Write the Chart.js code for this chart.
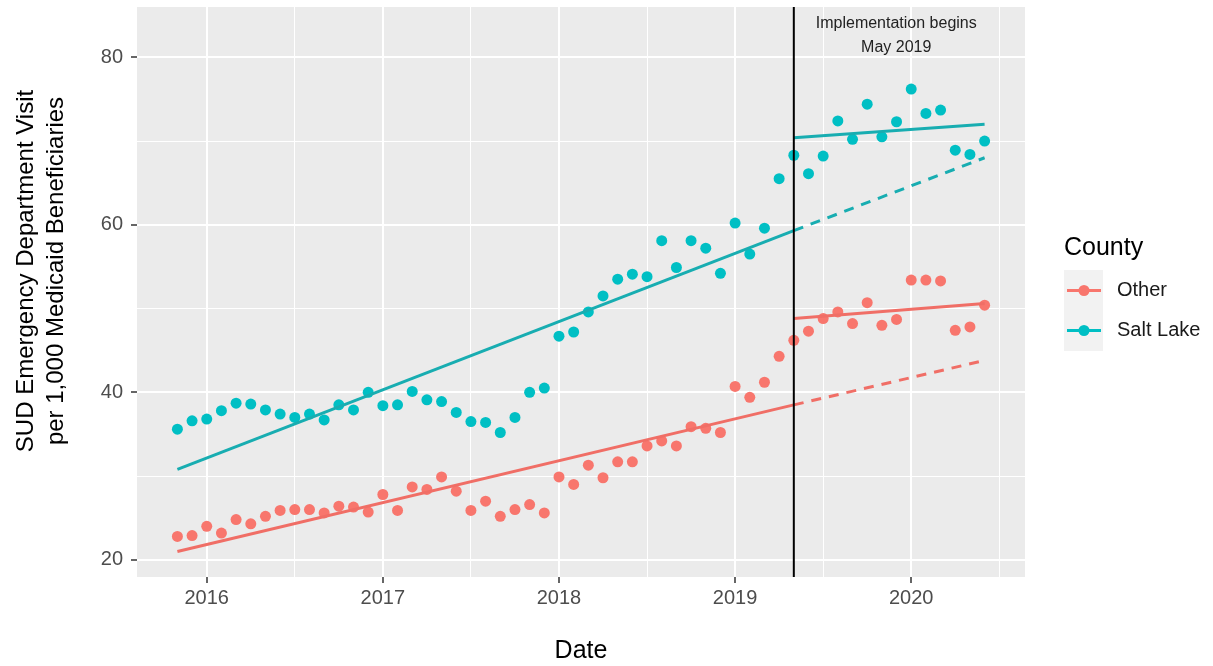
<!DOCTYPE html>
<html>
<head>
<meta charset="utf-8">
<script src="https://cdn.jsdelivr.net/npm/chart.js@4.4.1/dist/chart.umd.min.js"></script>
<style>
  html, body { margin: 0; padding: 0; background: #fff; }
  #wrap { width: 1213px; height: 666px; }
</style>
</head>
<body>
<div id="wrap"><canvas id="sudVisitsChart"></canvas></div>
<script>
// Monthly SUD ED visits per 1,000 Medicaid beneficiaries, Nov 2015 - Jun 2020
const months = [
  '2015-11', '2015-12',
  '2016-01', '2016-02', '2016-03', '2016-04', '2016-05', '2016-06', '2016-07', '2016-08', '2016-09', '2016-10', '2016-11', '2016-12',
  '2017-01', '2017-02', '2017-03', '2017-04', '2017-05', '2017-06', '2017-07', '2017-08', '2017-09', '2017-10', '2017-11', '2017-12',
  '2018-01', '2018-02', '2018-03', '2018-04', '2018-05', '2018-06', '2018-07', '2018-08', '2018-09', '2018-10', '2018-11', '2018-12',
  '2019-01', '2019-02', '2019-03', '2019-04', '2019-05', '2019-06', '2019-07', '2019-08', '2019-09', '2019-10', '2019-11', '2019-12',
  '2020-01', '2020-02', '2020-03', '2020-04', '2020-05', '2020-06'
];
const otherRate = [
  22.8, 22.9,
  24.0, 23.2, 24.8, 24.3, 25.2, 25.9, 26.0, 26.0, 25.6, 26.4, 26.3, 25.7,
  27.8, 25.9, 28.7, 28.4, 29.9, 28.2, 25.9, 27.0, 25.2, 26.0, 26.6, 25.6,
  29.9, 29.0, 31.3, 29.8, 31.7, 31.7, 33.6, 34.2, 33.6, 35.9, 35.7, 35.2,
  40.7, 39.4, 41.2, 44.3, 46.2, 47.3, 48.8, 49.6, 48.2, 50.7, 48.0, 48.7,
  53.4, 53.4, 53.3, 47.4, 47.8, 50.4
];
const saltLakeRate = [
  35.6, 36.6,
  36.8, 37.8, 38.7, 38.6, 37.9, 37.4, 37.0, 37.4, 36.7, 38.5, 37.9, 40.0,
  38.4, 38.5, 40.1, 39.1, 38.9, 37.6, 36.5, 36.4, 35.2, 37.0, 40.0, 40.5,
  46.7, 47.2, 49.6, 51.5, 53.5, 54.1, 53.8, 58.1, 54.9, 58.1, 57.2, 54.2,
  60.2, 56.5, 59.6, 65.5, 68.3, 66.1, 68.2, 72.4, 70.2, 74.4, 70.5, 72.3,
  76.2, 73.3, 73.7, 68.9, 68.4, 70.0
];

// fitted trend lines (start, end)
const preMonths = ['2015-11', '2019-05'];
const postMonths = ['2019-05', '2020-06'];
const otherTrendPre = [21.0, 38.5];
const otherTrendProjected = [38.5, 43.8];
const otherTrendPost = [48.8, 50.6];
const saltLakeTrendPre = [30.8, 59.3];
const saltLakeTrendProjected = [59.3, 68.0];
const saltLakeTrendPost = [70.4, 72.0];

const implementationMonth = '2019-05';

// axis ticks
const xTickYears = [2016, 2017, 2018, 2019, 2020];
const xMinorYears = [2016.5, 2017.5, 2018.5, 2019.5, 2020.5];
const yTickValues = [20, 40, 60, 80];
const yMinorValues = [30, 50, 70];

const OTHER_COLOR = '#F8766D';
const SALT_COLOR = '#00BFC4';
const OTHER_LINE = '#F06E66';
const SALT_LINE = '#18ADB1';
const FONT = '"Liberation Sans", Arial, Helvetica, sans-serif';

// '2016-03' -> 2016.1667
function toYear(m) {
  return Number(m.slice(0, 4)) + (Number(m.slice(5, 7)) - 1) / 12;
}
function toPoints(ms, vals) {
  return ms.map((m, i) => ({ x: toYear(m), y: vals[i] }));
}

function trendSet(label, ms, vals, color, dashed) {
  return {
    label: label,
    type: 'line',
    data: toPoints(ms, vals),
    borderColor: color,
    borderWidth: 3,
    borderDash: dashed ? [10, 8] : [],
    pointRadius: 0,
    showLine: true,
    fill: false,
    order: 0
  };
}

const isMajorX = v => xTickYears.includes(v);
const isMajorY = v => yTickValues.includes(v);
const byValue = (a, b) => a - b;

const ggplotBits = {
  id: 'ggplotBits',
  beforeDraw(chart) {
    const { ctx, chartArea: a } = chart;
    ctx.save();
    ctx.fillStyle = '#EBEBEB';
    ctx.fillRect(a.left, a.top, a.right - a.left, a.bottom - a.top);
    ctx.restore();
  },
  afterDatasetsDraw(chart) {
    const { ctx, chartArea: a, scales } = chart;
    const x = scales.x.getPixelForValue(toYear(implementationMonth));
    ctx.save();
    ctx.strokeStyle = '#000000';
    ctx.lineWidth = 2;
    ctx.beginPath();
    ctx.moveTo(x, a.top);
    ctx.lineTo(x, a.bottom);
    ctx.stroke();

    // annotation
    ctx.fillStyle = '#222222';
    ctx.font = '16px ' + FONT;
    ctx.textAlign = 'center';
    ctx.textBaseline = 'middle';
    const tx = scales.x.getPixelForValue(2019.915);
    ctx.fillText('Implementation begins', tx, scales.y.getPixelForValue(84.0));
    ctx.fillText('May 2019', tx, scales.y.getPixelForValue(81.1));
    ctx.restore();
  },
  afterDraw(chart) {
    const { ctx } = chart;
    ctx.save();
    // y axis title (two lines, rotated)
    ctx.fillStyle = '#000000';
    ctx.font = '24px ' + FONT;
    ctx.textAlign = 'center';
    ctx.textBaseline = 'middle';
    ctx.translate(0, 271);
    ctx.rotate(-Math.PI / 2);
    ctx.fillText('SUD Emergency Department Visit', 0, 26);
    ctx.fillText('per 1,000 Medicaid Beneficiaries', 0, 56);
    ctx.restore();

    // legend
    ctx.save();
    ctx.fillStyle = '#000000';
    ctx.font = '25px ' + FONT;
    ctx.textAlign = 'left';
    ctx.textBaseline = 'middle';
    ctx.fillText('County', 1064, 248);
    ctx.fillStyle = '#F2F2F2';
    ctx.fillRect(1064, 270, 39, 81);
    const items = [
      { label: 'Other', color: OTHER_COLOR, y: 290.5 },
      { label: 'Salt Lake', color: SALT_COLOR, y: 330.5 }
    ];
    items.forEach(it => {
      ctx.strokeStyle = it.color;
      ctx.lineWidth = 3;
      ctx.beginPath();
      ctx.moveTo(1067, it.y);
      ctx.lineTo(1101, it.y);
      ctx.stroke();
      ctx.fillStyle = it.color;
      ctx.beginPath();
      ctx.arc(1084, it.y, 5.5, 0, Math.PI * 2);
      ctx.fill();
      ctx.fillStyle = '#1A1A1A';
      ctx.font = '20px ' + FONT;
      ctx.fillText(it.label, 1117, it.y);
    });
    ctx.restore();
  }
};

const ctx = document.getElementById('sudVisitsChart').getContext('2d');
new Chart(ctx, {
  type: 'scatter',
  data: {
    datasets: [
      trendSet('Other trend', preMonths, otherTrendPre, OTHER_LINE, false),
      trendSet('Other projected', postMonths, otherTrendProjected, OTHER_LINE, true),
      trendSet('Other post', postMonths, otherTrendPost, OTHER_LINE, false),
      trendSet('Salt Lake trend', preMonths, saltLakeTrendPre, SALT_LINE, false),
      trendSet('Salt Lake projected', postMonths, saltLakeTrendProjected, SALT_LINE, true),
      trendSet('Salt Lake post', postMonths, saltLakeTrendPost, SALT_LINE, false),
      {
        label: 'Other',
        data: toPoints(months, otherRate),
        backgroundColor: OTHER_COLOR,
        borderWidth: 0,
        pointRadius: 5.5,
        order: 1
      },
      {
        label: 'Salt Lake',
        data: toPoints(months, saltLakeRate),
        backgroundColor: SALT_COLOR,
        borderWidth: 0,
        pointRadius: 5.5,
        order: 1
      }
    ]
  },
  options: {
    responsive: true,
    maintainAspectRatio: false,
    animation: false,
    layout: { padding: { left: 0, top: 7, right: 188, bottom: 0 } },
    plugins: {
      legend: { display: false },
      tooltip: { enabled: false }
    },
    scales: {
      x: {
        type: 'linear',
        min: 2015.604,
        max: 2020.646,
        afterBuildTicks: s => { s.ticks = xTickYears.concat(xMinorYears).sort(byValue).map(v => ({ value: v })); },
        afterFit: s => { s.height = 89; s.paddingLeft = 0; s.paddingRight = 0; },
        border: { display: false },
        grid: {
          color: '#FFFFFF',
          lineWidth: c => (isMajorX(c.tick.value) ? 2 : 1),
          tickLength: 6,
          tickWidth: 1.5,
          tickColor: c => (isMajorX(c.tick.value) ? '#333333' : 'rgba(0,0,0,0)')
        },
        ticks: {
          autoSkip: false,
          maxRotation: 0,
          padding: 3,
          color: '#4D4D4D',
          font: { family: FONT, size: 20 },
          callback: v => (isMajorX(v) ? String(v) : '')
        },
        title: {
          display: true,
          text: 'Date',
          color: '#000000',
          font: { family: FONT, size: 25, lineHeight: 1.2 },
          padding: { top: 0, bottom: 0 }
        }
      },
      y: {
        min: 17.95,
        max: 86,
        afterBuildTicks: s => { s.ticks = yTickValues.concat(yMinorValues).sort(byValue).map(v => ({ value: v })); },
        afterFit: s => { s.width = 137; s.paddingTop = 0; s.paddingBottom = 0; },
        border: { display: false },
        grid: {
          color: '#FFFFFF',
          lineWidth: c => (isMajorY(c.tick.value) ? 2 : 1),
          tickLength: 6,
          tickWidth: 1.5,
          tickColor: c => (isMajorY(c.tick.value) ? '#333333' : 'rgba(0,0,0,0)')
        },
        ticks: {
          padding: 8,
          color: '#4D4D4D',
          font: { family: FONT, size: 20 },
          callback: v => (isMajorY(v) ? String(v) : '')
        }
      }
    }
  },
  plugins: [ggplotBits]
});
</script>
</body>
</html>
